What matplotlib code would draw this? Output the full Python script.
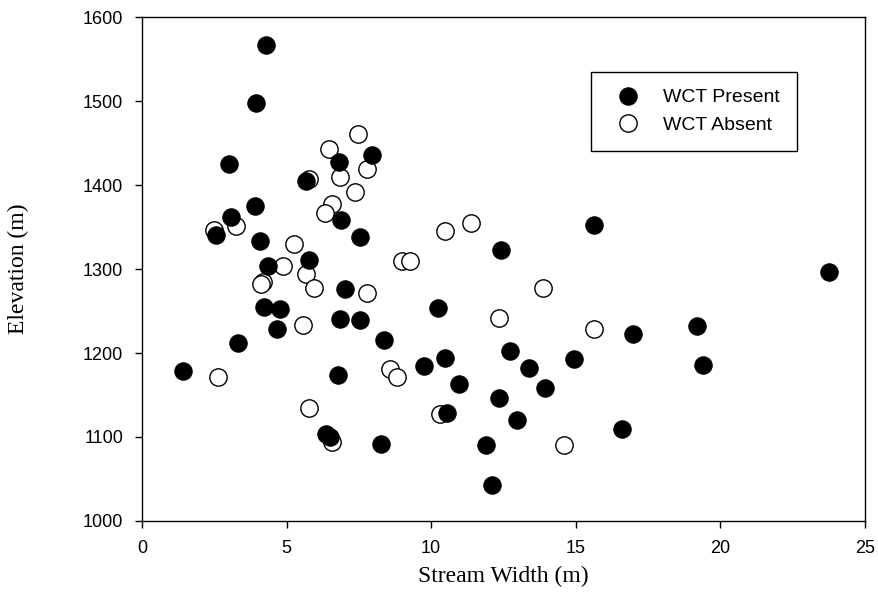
import matplotlib
matplotlib.use('Agg')
import matplotlib.pyplot as plt

# stream width (m) and elevation (m) per site
present_width = [4.29, 3.93, 3.01, 7.97, 6.83, 5.66, 3.92, 6.87, 3.09, 2.55, 7.54, 4.08,
                 5.78, 4.37, 7.03, 4.23, 4.78, 6.86, 7.53, 4.67, 8.37, 3.31, 1.43, 9.77,
                 6.77, 6.38, 6.51, 8.27, 12.41, 15.64, 10.24, 16.98, 10.48, 12.74, 13.38,
                 14.95, 10.98, 13.94, 12.33, 10.55, 12.98, 16.59, 11.88, 12.12, 23.75,
                 19.19, 19.39]
present_elev = [1567, 1498, 1425, 1436, 1427, 1405, 1375, 1358, 1362, 1340, 1338, 1333,
                1311, 1304, 1276, 1255, 1252, 1240, 1239, 1229, 1215, 1212, 1179, 1185,
                1174, 1103, 1100, 1092, 1323, 1352, 1254, 1223, 1194, 1202, 1182,
                1193, 1163, 1158, 1147, 1128, 1120, 1110, 1090, 1043, 1296,
                1232, 1186]

absent_width = [7.46, 6.47, 7.77, 6.86, 5.78, 7.37, 6.56, 6.32, 3.25, 2.49, 5.27, 8.99,
                9.28, 4.87, 5.67, 4.20, 4.12, 5.96, 7.77, 5.57, 8.56, 8.81, 2.63, 5.77,
                6.57, 10.47, 11.38, 13.88, 12.36, 15.62, 10.29, 14.58]
absent_elev = [1461, 1443, 1419, 1409, 1407, 1392, 1377, 1367, 1351, 1346, 1330, 1309,
               1310, 1303, 1294, 1285, 1282, 1277, 1272, 1233, 1181, 1172, 1171, 1135,
               1094, 1345, 1355, 1277, 1242, 1228, 1127, 1090]

x_ticks = [0, 5, 10, 15, 20, 25]
y_ticks = [1000, 1100, 1200, 1300, 1400, 1500, 1600]

fig = plt.figure(figsize=(8.79, 6.08), dpi=100)
ax = fig.add_axes([0.1615, 0.1431, 0.8225, 0.8289])

# open circles first so the filled ones sit on top
absent, = ax.plot(absent_width, absent_elev, 'o', color='white', markersize=12.5,
                  markeredgecolor='black', markeredgewidth=1.0, label='WCT Absent', zorder=3)
present, = ax.plot(present_width, present_elev, 'o', color='black', markersize=12.5,
                   markeredgecolor='black', markeredgewidth=0.8, label='WCT Present', zorder=4)

ax.set_xlim(0, 25)
ax.set_ylim(1000, 1600)
ax.set_xticks(x_ticks)
ax.set_yticks(y_ticks)

tick_font = {'family': 'Liberation Sans', 'size': 13}
ax.set_xticklabels([str(t) for t in x_ticks], fontdict=tick_font)
ax.set_yticklabels([str(t) for t in y_ticks], fontdict=tick_font)
ax.tick_params(direction='out', length=5, width=1, pad=8.5)

for s in ax.spines.values():
    s.set_linewidth(1.0)

ax.set_xlabel('Stream Width (m)', family='Liberation Serif', size=17, va='center')
ax.set_ylabel('Elevation (m)', family='Liberation Serif', size=17, va='center')
ax.xaxis.set_label_coords(0.5, -0.111)
ax.yaxis.set_label_coords(-0.1715, 0.5)

leg = ax.legend(handles=[present, absent], loc='upper right', bbox_to_anchor=(0.906, 0.891),
                prop={'family': 'Liberation Sans', 'size': 14},
                fancybox=False, edgecolor='black', framealpha=1,
                borderpad=0.87, handlelength=2.06, handletextpad=0.77,
                labelspacing=0.5, borderaxespad=0)
leg.get_frame().set_linewidth(1.0)

fig.savefig('out.png', dpi=100)
